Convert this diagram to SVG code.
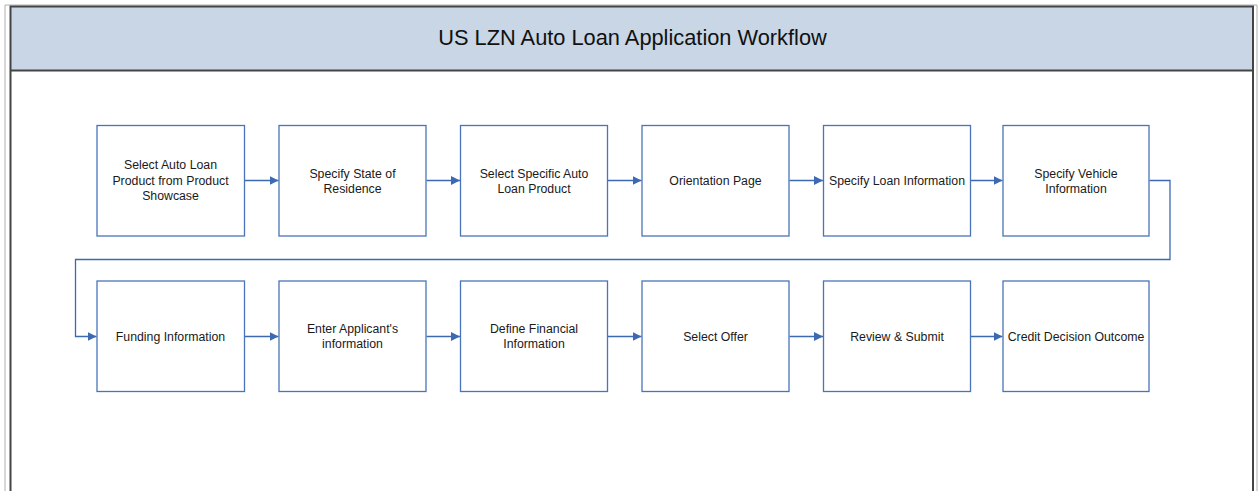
<svg xmlns="http://www.w3.org/2000/svg" width="1259" height="491" viewBox="0 0 1259 491">
<style>
.box{fill:#fff;stroke:#4a74b9;stroke-width:1.3}
.t{font-family:"Liberation Sans",Arial,sans-serif;font-size:12.3px;fill:#1a1a1a;text-anchor:middle}
.c{fill:none;stroke:#3d69b2;stroke-width:1.3}
</style>
<defs>
<marker id="a" viewBox="0 0 10 10" refX="10" refY="5" markerWidth="9" markerHeight="9" markerUnits="userSpaceOnUse" orient="auto">
<path d="M0,0 L10,5 L0,10 z" fill="#3d69b2"/>
</marker>
</defs>
<rect width="1259" height="491" fill="#fff"/>
<g id="frame">
<path d="M5,491 V5 H1257 V491" fill="none" stroke="#b0b0b0" stroke-width="1"/>
<rect x="10.5" y="6.5" width="1242" height="64" fill="#c8d6e5"/>
<path d="M10.5,491 V6.5 H1253 V491" fill="none" stroke="#444" stroke-width="2"/>
<line x1="10.5" y1="70.5" x2="1253" y2="70.5" stroke="#444" stroke-width="2"/>
<text x="632.5" y="45" font-family="'Liberation Sans',Arial,sans-serif" font-size="21.8" fill="#111" text-anchor="middle">US LZN Auto Loan Application Workflow</text>
</g>
<g id="connectors">
<line class="c" x1="244.5" y1="180.5" x2="278.5" y2="180.5" marker-end="url(#a)"/>
<line class="c" x1="426.5" y1="180.5" x2="460" y2="180.5" marker-end="url(#a)"/>
<line class="c" x1="607.5" y1="180.5" x2="641.5" y2="180.5" marker-end="url(#a)"/>
<line class="c" x1="789.5" y1="180.5" x2="823" y2="180.5" marker-end="url(#a)"/>
<line class="c" x1="970.5" y1="180.5" x2="1002.5" y2="180.5" marker-end="url(#a)"/>
<path class="c" d="M1149.5,180.5 H1170 V259.5 H75.5 V336.5 H96.5" marker-end="url(#a)"/>
<line class="c" x1="244.5" y1="336.5" x2="278.5" y2="336.5" marker-end="url(#a)"/>
<line class="c" x1="426.5" y1="336.5" x2="460" y2="336.5" marker-end="url(#a)"/>
<line class="c" x1="607.5" y1="336.5" x2="641.5" y2="336.5" marker-end="url(#a)"/>
<line class="c" x1="789.5" y1="336.5" x2="823" y2="336.5" marker-end="url(#a)"/>
<line class="c" x1="970.5" y1="336.5" x2="1002.5" y2="336.5" marker-end="url(#a)"/>
</g>
<g id="n1"><rect class="box" x="97" y="125.5" width="147.5" height="110.5"/>
<text class="t" x="170.5" y="169">Select Auto Loan</text><text class="t" x="170.5" y="184.5">Product from Product</text><text class="t" x="170.5" y="200">Showcase</text></g>
<g id="n2"><rect class="box" x="279" y="125.5" width="147" height="110.5"/>
<text class="t" x="352.5" y="177.5">Specify State of</text><text class="t" x="352.5" y="192.5">Residence</text></g>
<g id="n3"><rect class="box" x="460.5" y="125.5" width="147" height="110.5"/>
<text class="t" x="534" y="177.5">Select Specific Auto</text><text class="t" x="534" y="192.5">Loan Product</text></g>
<g id="n4"><rect class="box" x="642" y="125.5" width="147" height="110.5"/>
<text class="t" x="715.5" y="185">Orientation Page</text></g>
<g id="n5"><rect class="box" x="823.5" y="125.5" width="147" height="110.5"/>
<text class="t" x="897" y="185">Specify Loan Information</text></g>
<g id="n6"><rect class="box" x="1003" y="125.5" width="146" height="110.5"/>
<text class="t" x="1076" y="177.5">Specify Vehicle</text><text class="t" x="1076" y="192.5">Information</text></g>
<g id="n7"><rect class="box" x="97" y="281" width="147.5" height="110.5"/>
<text class="t" x="170.5" y="340.5">Funding Information</text></g>
<g id="n8"><rect class="box" x="279" y="281" width="147" height="110.5"/>
<text class="t" x="352.5" y="333">Enter Applicant's</text><text class="t" x="352.5" y="348">information</text></g>
<g id="n9"><rect class="box" x="460.5" y="281" width="147" height="110.5"/>
<text class="t" x="534" y="333">Define Financial</text><text class="t" x="534" y="348">Information</text></g>
<g id="n10"><rect class="box" x="642" y="281" width="147" height="110.5"/>
<text class="t" x="715.5" y="340.5">Select Offer</text></g>
<g id="n11"><rect class="box" x="823.5" y="281" width="147" height="110.5"/>
<text class="t" x="897" y="340.5">Review &amp; Submit</text></g>
<g id="n12"><rect class="box" x="1003" y="281" width="146" height="110.5"/>
<text class="t" x="1076" y="340.5">Credit Decision Outcome</text></g>
</svg>
